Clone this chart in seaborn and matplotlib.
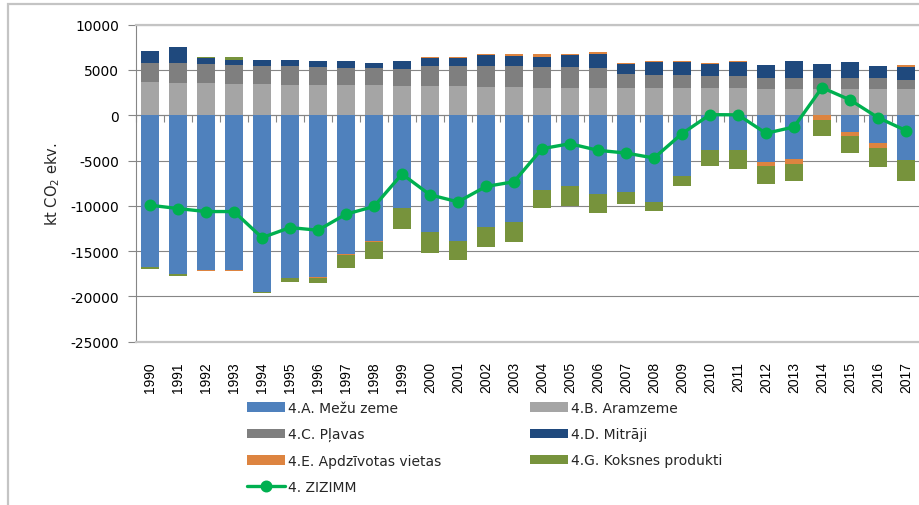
import numpy as np
import pandas as pd
import seaborn as sns
import matplotlib.pyplot as plt
from matplotlib.patches import Rectangle

years = [str(y) for y in range(1990, 2018)]

# kt CO2 ekv.
mezu_zeme = [-16750, -17560, -17050, -17050, -19520, -18010, -17860, -15280, -13840, -10220,
             -12920, -13840, -12290, -11770, -8230, -7820, -8670, -8520, -9590, -6680,
             -3800, -3870, -5130, -4830, 0, -1850, -3060, -4980]
aramzeme = [3690, 3580, 3580, 3470, 3470, 3360, 3360, 3360, 3360, 3240,
            3240, 3240, 3130, 3130, 3060, 3060, 3060, 3060, 3060, 3060,
            3060, 3060, 2950, 2950, 2950, 2950, 2950, 2950]
plavas = [2030, 2140, 2030, 2030, 1950, 2060, 1950, 1840, 1840, 1840,
          2250, 2250, 2290, 2290, 2290, 2250, 2140, 1550, 1440, 1440,
          1330, 1330, 1220, 1220, 1220, 1110, 1110, 960]
mitraji = [1360, 1770, 740, 550, 630, 630, 630, 740, 550, 960,
           850, 850, 1220, 1110, 1110, 1330, 1590, 1030, 1360, 1360,
           1250, 1470, 1330, 1810, 1470, 1810, 1360, 1470]
apdzivotas = [0, 0, -110, -110, 0, 0, -150, -110, -110, -70,
              110, 110, 150, 180, 260, 180, 220, 150, 110, 110,
              150, 110, -520, -520, -550, -480, -520, 180]
koksnes = [-180, -150, 110, 400, -70, -440, -550, -1510, -1920, -2250,
           -2250, -2140, -2210, -2250, -2030, -2210, -2100, -1330, -960, -1180,
           -1770, -2030, -1920, -1880, -1770, -1810, -2140, -2250]
zizimm = [-9930, -10300, -10630, -10630, -13510, -12400, -12690, -10920, -10070, -6490,
          -8780, -9560, -7860, -7340, -3690, -3140, -3870, -4170, -4720, -2030,
          70, 50, -1990, -1290, 3050, 1700, -260, -1690]

series_labels = ["4.A. Mežu zeme", "4.B. Aramzeme", "4.C. Pļavas", "4.D. Mitrāji",
                 "4.E. Apdzīvotas vietas", "4.G. Koksnes produkti"]
series_values = [mezu_zeme, aramzeme, plavas, mitraji, apdzivotas, koksnes]
series_colors = ["#4F81BD", "#A5A5A5", "#7F7F7F", "#1F497D", "#DD8440", "#77933C"]
line_label = "4. ZIZIMM"
line_color = "#00B050"

y_ticks = [-25000, -20000, -15000, -10000, -5000, 0, 5000, 10000]

sns.set_theme(style="white")
plt.rcParams["font.family"] = ["DejaVu Sans"]

W, H = 919, 506
fig = plt.figure(figsize=(W / 100, H / 100), dpi=100)
ax = fig.add_axes([136 / W, 1 - 342.7 / H, 784 / W, (342.7 - 25.7) / H])

# stacked bars: positives pile up from zero, negatives pile down
pos_base = np.zeros(len(years))
neg_base = np.zeros(len(years))
for label, vals, col in zip(series_labels, series_values, series_colors):
    v = np.array(vals, dtype=float)
    bottom = np.where(v >= 0, pos_base, neg_base)
    df = pd.DataFrame({"year": years, "value": v})
    sns.barplot(data=df, x="year", y="value", order=years, color=col, width=0.67,
                bottom=bottom, errorbar=None, saturation=1, linewidth=0,
                label=label, ax=ax)
    pos_base = pos_base + np.clip(v, 0, None)
    neg_base = neg_base + np.clip(v, None, 0)

line_df = pd.DataFrame({"year": years, "value": zizimm})
sns.pointplot(data=line_df, x="year", y="value", order=years, color=line_color,
              markers="o", errorbar=None, label=line_label, markersize=6.8,
              linewidth=2.4, ax=ax)

ymin, ymax = y_ticks[0], y_ticks[-1]
ax.set_ylim(ymin, ymax)
ax.set_xlim(-0.5, len(years) - 0.5)
ax.set_yticks(y_ticks)
ax.set_yticklabels([str(t) for t in y_ticks], fontsize=10, color="black")
ax.yaxis.grid(True, color="#868686", linewidth=0.8)
ax.xaxis.grid(False)
ax.set_axisbelow(True)
ax.tick_params(axis="y", left=True, length=6, width=0.8, color="#868686", pad=6)
ax.tick_params(axis="x", bottom=False, pad=8)
for t in ax.get_xticklabels():
    t.set_rotation(90)
    t.set_fontsize(10)
    t.set_family("Liberation Sans")
    t.set_color("black")

ax.set_xlabel("")
ax.set_ylabel(r"kt CO$_2$ ekv.", fontsize=10.5, labelpad=6)
ax.spines["left"].set_color("#868686")
ax.spines["left"].set_linewidth(0.8)
ax.spines["right"].set_visible(False)
for s in ("top", "bottom"):
    ax.spines[s].set_color("#C4C4C4")
    ax.spines[s].set_linewidth(1.6)

# category axis crossing at zero with tick marks between bars
zero_frac = (0 - ymin) / (ymax - ymin)
sec = ax.secondary_xaxis(zero_frac)
sec.set_xticks(np.arange(len(years) + 1) - 0.5)
sec.xaxis.set_ticks_position("bottom")
sec.tick_params(axis="x", direction="out", length=5, width=0.8, color="#868686",
                labelbottom=False, labeltop=False)
for s in sec.spines.values():
    s.set_color("#868686")
    s.set_linewidth(0.8)

# legend, Excel-like two column layout
if ax.get_legend() is not None:
    ax.get_legend().remove()
handles, labels = ax.get_legend_handles_labels()
lookup = dict(zip(labels, handles))
order = [series_labels[0], series_labels[2], series_labels[4], line_label,
         series_labels[1], series_labels[3], series_labels[5]]
fig.legend([lookup[l] for l in order], order, loc="upper left",
           bbox_to_anchor=(247 / W, 1 - 402 / H), ncol=2, frameon=False,
           fontsize=10, handlelength=2.73, handletextpad=0.2,
           columnspacing=6.4, labelspacing=0.88, borderpad=0, borderaxespad=0)

# chart area border
fig.add_artist(Rectangle((7.5 / W, -0.1), 1.2, 1.1 - 4.7 / H, transform=fig.transFigure,
                         fill=False, edgecolor="#C4C4C4", linewidth=1.6))

fig.savefig("out.png", dpi=100)
